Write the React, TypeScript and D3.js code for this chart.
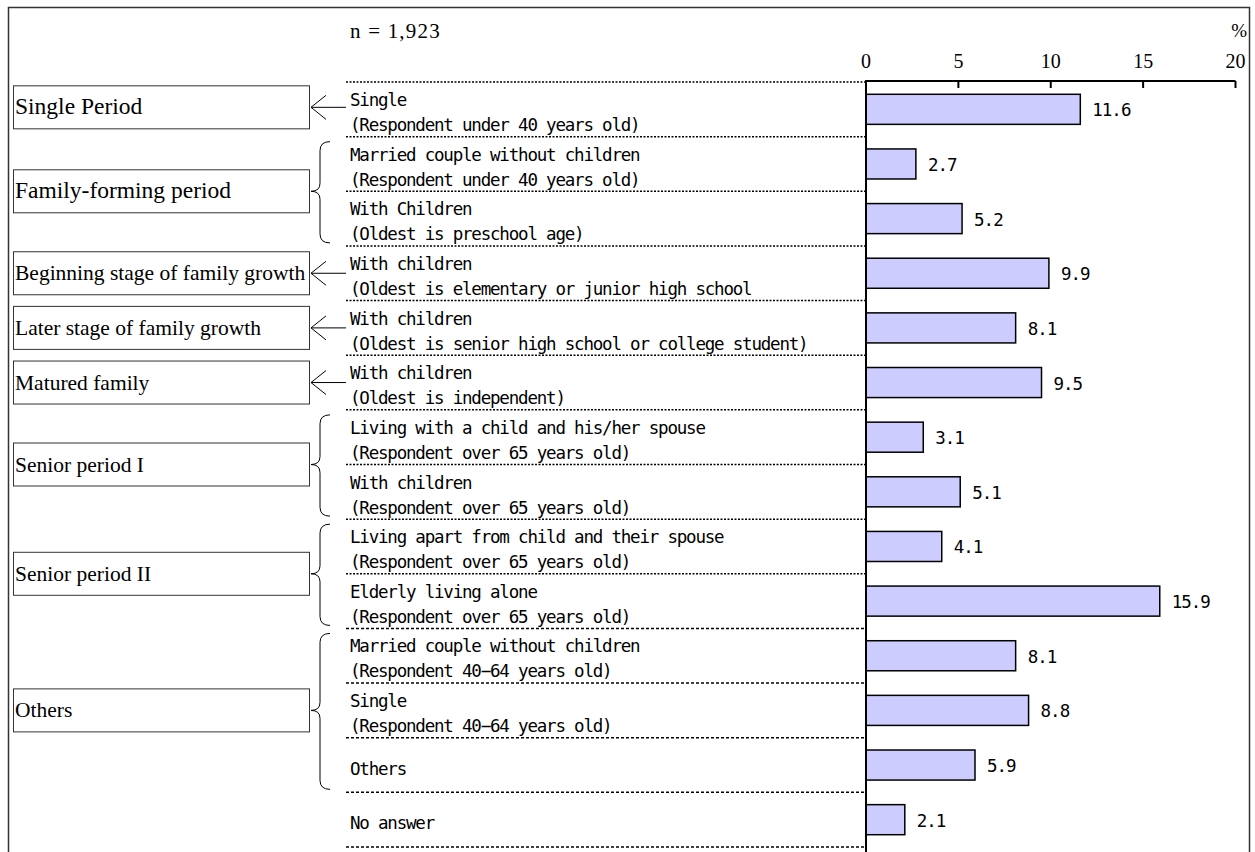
import { useEffect, useRef } from 'react';
import * as d3 from 'd3';

const itemLine1 = [
  'Single',
  'Married couple without children',
  'With Children',
  'With children',
  'With children',
  'With children',
  'Living with a child and his/her spouse',
  'With children',
  'Living apart from child and their spouse',
  'Elderly living alone',
  'Married couple without children',
  'Single',
  'Others',
  'No answer',
];
const itemLine2 = [
  '(Respondent under 40 years old)',
  '(Respondent under 40 years old)',
  '(Oldest is preschool age)',
  '(Oldest is elementary or junior high school',
  '(Oldest is senior high school or college student)',
  '(Oldest is independent)',
  '(Respondent over 65 years old)',
  '(Respondent over 65 years old)',
  '(Respondent over 65 years old)',
  '(Respondent over 65 years old)',
  '(Respondent 40\u221264 years old)',
  '(Respondent 40\u221264 years old)',
  '',
  '',
];
const values = [11.6, 2.7, 5.2, 9.9, 8.1, 9.5, 3.1, 5.1, 4.1, 15.9, 8.1, 8.8, 5.9, 2.1];

const stageNames = [
  'Single Period',
  'Family-forming period',
  'Beginning stage of family growth',
  'Later stage of family growth',
  'Matured family',
  'Senior period I',
  'Senior period II',
  'Others',
];
const stageFirst = [0, 1, 3, 4, 5, 6, 8, 10];
const stageLast = [0, 2, 3, 4, 5, 7, 9, 12];

const xTicks = [0, 5, 10, 15, 20];
const sampleNote = 'n = 1,923';

const MONO = '"DejaVu Sans Mono", monospace';
const SERIF = '"Liberation Serif", "Times New Roman", serif';

export default function App() {
  const svgRef = useRef<SVGSVGElement>(null);

  useEffect(() => {
    if (!svgRef.current) return;
    const svg = d3.select(svgRef.current);
    svg.selectAll('*').remove();

    const idx = values.map((_, i) => i);
    const x = d3.scaleLinear().domain([0, 20]).range([866, 1235.5]);
    const y = d3.scaleBand<number>().domain(idx).range([82, 847]).paddingInner(0.45).paddingOuter(0.225);
    const step = y.step();
    const rowTop = (i: number) => (y(i) as number) - (step - y.bandwidth()) / 2;

    // outer frame
    svg.append('rect')
      .attr('x', 8.5).attr('y', 7.5).attr('width', 1241).attr('height', 900)
      .attr('fill', 'none').attr('stroke', '#333').attr('stroke-width', 1.5);

    svg.append('text')
      .attr('x', 350).attr('y', 38)
      .attr('font-family', SERIF).attr('font-size', 21).attr('letter-spacing', 1.2)
      .attr('xml:space', 'preserve')
      .text(sampleNote);

    svg.append('text')
      .attr('x', 1247).attr('y', 37).attr('text-anchor', 'end')
      .attr('font-family', SERIF).attr('font-size', 19)
      .text('%');

    // axis
    const axis = svg.append('g').attr('transform', 'translate(0,81)');
    axis.append('line')
      .attr('x1', x(0)).attr('x2', x(20))
      .attr('stroke', '#000').attr('stroke-width', 2);
    xTicks.forEach(t => {
      axis.append('line')
        .attr('x1', x(t)).attr('x2', x(t)).attr('y1', 0).attr('y2', 7)
        .attr('stroke', '#000').attr('stroke-width', 2);
      axis.append('text')
        .attr('x', x(t)).attr('y', -13).attr('text-anchor', 'middle')
        .attr('font-family', SERIF).attr('font-size', 20)
        .text(t);
    });

    // row separators
    for (let i = 0; i <= values.length; i++) {
      const yy = i < values.length ? rowTop(i) : rowTop(i - 1) + step;
      svg.append('line')
        .attr('x1', 346).attr('x2', x(0))
        .attr('y1', yy).attr('y2', yy)
        .attr('stroke', '#000').attr('stroke-width', 1.5)
        .attr('stroke-dasharray', i < 10 ? '2,1.5' : '3,2');
    }

    // item labels
    const label = (txt: string, yy: number) =>
      svg.append('text').attr('x', 350).attr('y', yy)
        .attr('font-family', MONO).attr('font-size', 17.5).attr('letter-spacing', -1.2)
        .text(txt);
    idx.forEach(i => {
      const top = rowTop(i);
      if (itemLine2[i]) {
        label(itemLine1[i], top + 24);
        label(itemLine2[i], top + 49);
      } else {
        label(itemLine1[i], top + 37);
      }
    });

    // bars
    svg.append('g').selectAll('rect').data(values).join('rect')
      .attr('x', x(0)).attr('y', (_, i) => y(i) as number)
      .attr('width', d => x(d) - x(0)).attr('height', y.bandwidth())
      .attr('fill', '#ccccff').attr('stroke', '#000').attr('stroke-width', 1.5);

    svg.append('g').selectAll('text').data(values).join('text')
      .attr('x', d => x(d) + 12)
      .attr('y', (_, i) => (y(i) as number) + y.bandwidth() / 2 + 7)
      .attr('font-family', MONO).attr('font-size', 17.5).attr('letter-spacing', -1)
      .text(d => d.toFixed(1));

    // vertical axis line
    svg.append('line')
      .attr('x1', x(0)).attr('x2', x(0)).attr('y1', 80).attr('y2', 852)
      .attr('stroke', '#000').attr('stroke-width', 2);

    // life stage boxes, arrows and braces
    stageNames.forEach((name, s) => {
      const top = rowTop(stageFirst[s]);
      const bottom = rowTop(stageLast[s]) + step;
      const mid = (top + bottom) / 2;
      const single = stageFirst[s] === stageLast[s];
      const cy = s === 0 ? mid - 2 : mid;

      svg.append('rect')
        .attr('x', 13.5).attr('y', cy - 21.5).attr('width', 296).attr('height', 43)
        .attr('fill', '#fff').attr('stroke', '#333').attr('stroke-width', 1);
      svg.append('text')
        .attr('x', 15).attr('y', cy + 7)
        .attr('font-family', SERIF).attr('font-size', s < 2 ? 23.5 : 21.5)
        .text(name);

      if (single) {
        svg.append('path')
          .attr('d', `M346,${cy}L311,${cy}M326,${cy - 12}L311,${cy}L326,${cy + 12}`)
          .attr('fill', 'none').attr('stroke', '#000').attr('stroke-width', 1);
      } else {
        const t = top + 5;
        const b = bottom - 3;
        const xv = 320;
        const xe = 330;
        const xt = 311;
        svg.append('path')
          .attr('d', `M${xe},${t}Q${xv},${t} ${xv},${t + 9}L${xv},${mid - 8}Q${xv},${mid} ${xt},${mid}` +
            `Q${xv},${mid} ${xv},${mid + 8}L${xv},${b - 9}Q${xv},${b} ${xe},${b}`)
          .attr('fill', 'none').attr('stroke', '#000').attr('stroke-width', 1);
      }
    });
  }, []);

  return (
    <svg ref={svgRef} width={1255} height={852}
      style={{ position: 'absolute', left: 0, top: 0, background: '#fff' }} />
  );
}
